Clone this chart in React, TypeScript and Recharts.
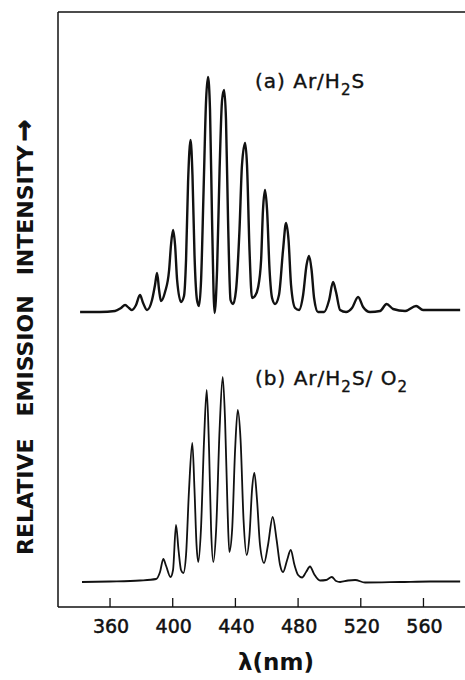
import { LineChart, Line, XAxis, YAxis, ReferenceLine } from "recharts";

// (a) Ar/H2S spectrum, wavelength in nm and intensity above its own baseline
const WAVELENGTH_A = [
  340.9, 353.6, 363.2, 367.0, 369.6, 372.1, 374.0, 376.6, 379.1, 381.1, 383.6, 386.8,
  388.7, 390.0, 391.3, 392.5, 395.1, 397.7, 398.9, 400.2, 401.5, 402.8, 405.3, 407.2,
  408.5, 409.8, 411.4, 412.6, 413.9, 415.5, 416.8, 418.1, 419.7, 421.3, 422.5, 423.8,
  425.1, 426.7, 428.3, 429.9, 431.5, 432.8, 434.0, 435.3, 436.9, 438.5, 440.4, 442.6,
  444.2, 446.2, 447.4, 449.0, 450.6, 452.5, 454.4, 456.4, 457.6, 458.9, 460.2, 461.8,
  463.4, 465.3, 467.8, 470.4, 472.3, 473.9, 475.5, 478.1, 480.6, 483.2, 485.4, 487.0,
  488.6, 490.2, 492.7, 496.6, 499.8, 502.3, 504.2, 506.8, 510.6, 514.4, 518.3, 521.5,
  525.9, 532.3, 536.5, 540.6, 548.3, 555.3, 559.7, 570.6, 583.4,
];
const INTENSITY_A = [
  0, 0, 1, 4, 7, 4, 2, 7, 17, 9, 2, 12,
  27, 39, 22, 11, 20, 42, 67, 82, 67, 32, 10, 16,
  52, 130, 172, 137, 57, 12, 6, 32, 122, 212, 235, 202,
  92, -1, 42, 142, 212, 222, 192, 92, 12, 8, 22, 82,
  147, 169, 147, 62, 14, 16, 24, 52, 102, 122, 102, 42,
  14, 8, 17, 62, 89, 72, 27, 4, 2, 17, 47, 56,
  42, 14, 0, 0, 12, 30, 20, 2, 0, 4, 15, 5,
  0, 1, 8, 3, 1, 6, 2, 2, 2,
];

// (b) Ar/H2S/O2 spectrum
const WAVELENGTH_B = [
  342.1, 360.0, 379.1, 389.4, 391.9, 394.0, 395.8, 398.6, 400.2, 402.1, 403.7, 405.3,
  406.8, 408.5, 410.4, 412.5, 413.9, 415.2, 416.3, 418.0, 420.0, 421.7, 423.2, 424.5,
  425.9, 427.7, 429.9, 431.9, 433.4, 435.0, 436.1, 437.9, 439.8, 441.5, 443.3, 445.2,
  447.2, 449.0, 450.6, 452.1, 453.8, 455.7, 458.3, 460.8, 463.8, 466.3, 468.5, 470.4,
  473.0, 475.3, 477.7, 480.0, 482.5, 485.1, 487.6, 490.2, 494.0, 497.9, 501.5, 504.2,
  506.8, 511.9, 516.4, 522.7, 545.1, 564.2, 583.4,
];
const INTENSITY_B = [
  0, 0.5, 1.5, 3, 10, 23, 16, 5, 12, 57, 32, 12,
  9, 27, 92, 139, 92, 37, 20, 52, 142, 192, 132, 52,
  20, 52, 152, 205, 162, 72, 30, 52, 132, 172, 142, 62,
  27, 47, 92, 109, 82, 37, 19, 37, 65, 42, 17, 10,
  22, 32, 17, 7, 4.5, 10, 15.5, 8, 1.5, 2, 5, 1,
  0, 1.5, 2, -0.5, 0, 0.5, 0.5,
];

const X_TICKS = [360, 400, 440, 480, 520, 560];
const X_DOMAIN = [326.8, 586.5];
const Y_MAX = 595;
// vertical stacking of the two traces
const OFFSET_A = 295;
const OFFSET_B = 25;

const dataA = WAVELENGTH_A.map((wl, i) => ({ wl, v: INTENSITY_A[i] + OFFSET_A }));
const dataB = WAVELENGTH_B.map((wl, i) => ({ wl, v: INTENSITY_B[i] + OFFSET_B }));

const INK = "#111";
const FONT = "DejaVu Sans";

const WaveTick = ({ x, y, payload }: any) => (
  <g>
    <line x1={x} x2={x} y1={y - 9} y2={y} stroke={INK} strokeWidth={1.3} />
    <text
      x={x + 1}
      y={y + 26}
      textAnchor="middle"
      fontFamily={FONT}
      fontSize={19}
      fill={INK}
      stroke={INK}
      strokeWidth={0.5}
    >
      {payload.value}
    </text>
  </g>
);

const App = () => {
  return (
    <div style={{ position: "absolute", left: 0, top: 0, width: 465, height: 680, background: "#fff" }}>
      <LineChart width={465} height={680} margin={{ top: 12, right: 0, bottom: 43, left: 58 }}>
        <XAxis
          dataKey="wl"
          type="number"
          domain={X_DOMAIN}
          ticks={X_TICKS}
          interval={0}
          allowDataOverflow
          height={30}
          tickSize={0}
          tickMargin={0}
          tick={<WaveTick />}
          axisLine={{ stroke: INK, strokeWidth: 1.5 }}
        />
        <YAxis type="number" domain={[0, Y_MAX]} width={0} hide />
        <ReferenceLine y={Y_MAX} stroke={INK} strokeWidth={1.5} />
        <ReferenceLine x={X_DOMAIN[0]} stroke={INK} strokeWidth={1.5} />
        <Line
          data={dataA}
          dataKey="v"
          type="monotone"
          dot={false}
          stroke={INK}
          strokeWidth={2.4}
          isAnimationActive={false}
        />
        <Line
          data={dataB}
          dataKey="v"
          type="monotone"
          dot={false}
          stroke={INK}
          strokeWidth={1.8}
          isAnimationActive={false}
        />
        <text x={255} y={88} fontFamily={FONT} fontSize={20} letterSpacing={1} fill={INK} stroke={INK} strokeWidth={0.4}>
          (a) Ar/H<tspan fontSize={15} dy={7}>2</tspan>
          <tspan dy={-7}>S</tspan>
        </text>
        <text x={255} y={385} fontFamily={FONT} fontSize={20} letterSpacing={1} fill={INK} stroke={INK} strokeWidth={0.4}>
          (b) Ar/H<tspan fontSize={15} dy={7}>2</tspan>
          <tspan dy={-7}>S/ O</tspan>
          <tspan fontSize={15} dy={7}>2</tspan>
        </text>
        <text
          x={33}
          y={555}
          transform="rotate(-90, 33, 555)"
          fontFamily={FONT}
          fontWeight="bold"
          fontSize={22}
          fill={INK}
        >
          RELATIVE
          <tspan dx={22}>EMISSION</tspan>
          <tspan dx={20}>INTENSITY</tspan>
          <tspan dx={4} fontSize={26} stroke={INK} strokeWidth={1}>→</tspan>
        </text>
        <text x={276} y={670} textAnchor="middle" fontFamily={FONT} fontWeight="bold" fontSize={23} fill={INK}>
          λ(nm)
        </text>
      </LineChart>
    </div>
  );
};

export default App;
